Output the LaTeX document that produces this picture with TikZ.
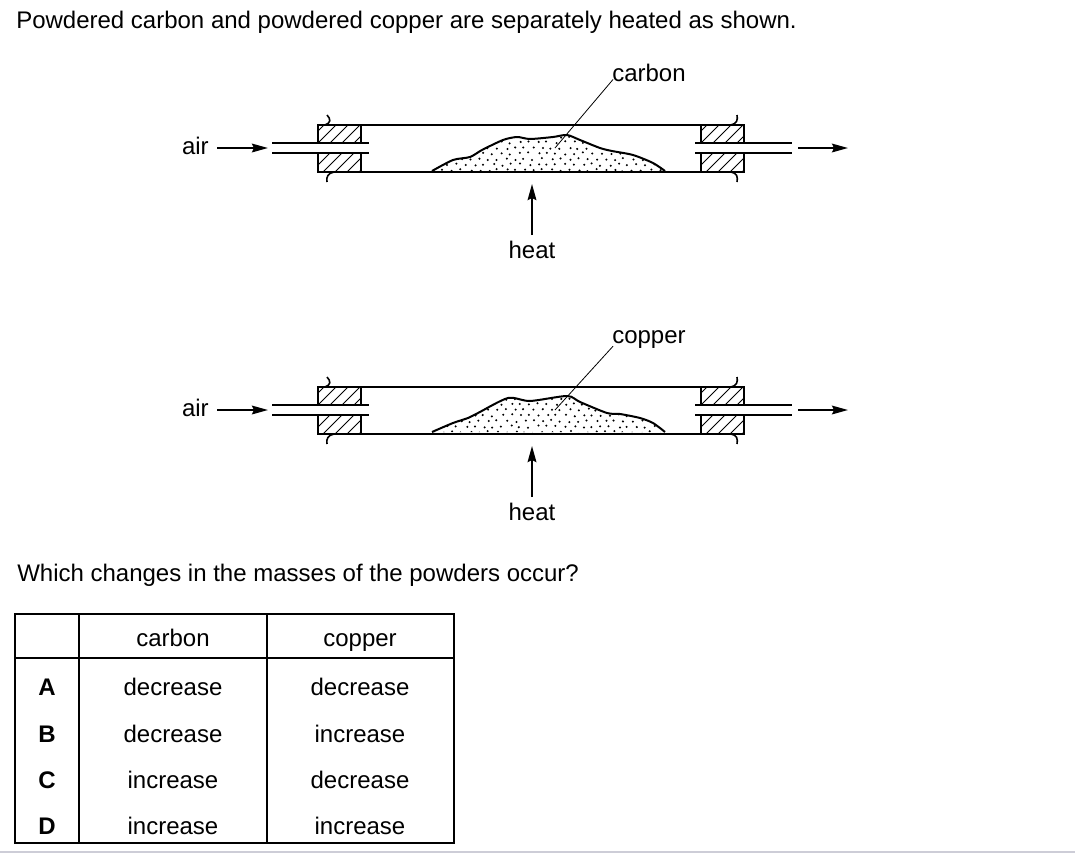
\documentclass[tikz,border=0pt]{standalone}
\usepackage{fontspec}
\setmainfont{Liberation Sans}
\usetikzlibrary{arrows.meta}
\begin{document}
\begin{tikzpicture}[x=0.75pt,y=-0.75pt,
  txt/.style={font=\fontsize{18pt}{21pt}\selectfont, inner sep=0pt},
  boldtxt/.style={txt, font=\fontsize{18pt}{21pt}\selectfont\bfseries},
  tube/.style={line width=1.5pt},
  tick/.style={line width=1.2pt},
  arr/.style={line width=1.5pt,-{Stealth[length=12pt,width=6.5pt,inset=1.5pt]}},
  lead/.style={line width=0.6pt},
  hatch/.style={line width=0.6pt},
  tab/.style={line width=1.5pt},
  powder/.style={line width=1.5pt, line join=round}]
\useasboundingbox (0,0) rectangle (1075,853);
\pgfmathsetseed{7}
\newcommand\apparatus[4]{%
\begin{scope}[shift={(0,#1)}]
  % hatched stoppers
  \foreach \xa in {318,701}{
    \begin{scope}
      \clip (\xa,125) rectangle ++(43,18);
      \foreach \k in {-2,...,5} \draw[hatch] ({\xa+\k*12},143) -- ++(18,-18);
    \end{scope}
    \begin{scope}
      \clip (\xa,153) rectangle ++(43,19);
      \foreach \k in {-2,...,5} \draw[hatch] ({\xa+\k*12+5},172) -- ++(19,-19);
    \end{scope}
    \draw[tube] (\xa,125) rectangle ++(43,18);
    \draw[tube] (\xa,153) rectangle ++(43,19);
  }
  % outer tube
  \draw[tube] (318,125) -- (744,125);
  \draw[tube] (318,172) -- (744,172);
  % inner tubes
  \draw[tube] (272,143) -- (369,143);
  \draw[tube] (272,153) -- (369,153);
  \draw[tube] (695,143) -- (792,143);
  \draw[tube] (695,153) -- (792,153);
  % end ticks
  \draw[tick] (327,115) .. controls (331,119) and (331,123) .. (325,125);
  \draw[tick] (334,172) .. controls (328,173) and (326,177) .. (327,182);
  \draw[tick] (737,115) .. controls (738,120) and (737,124) .. (730,125);
  \draw[tick] (731,172) .. controls (737,173) and (738,177) .. (737,182);
  % powder
  \begin{scope}
    \clip plot[smooth,tension=0.45] coordinates {#3} -- cycle;
    \foreach \j in {0,...,7}
      \foreach \i in {0,...,26}
        \fill ({430+\i*9+mod(\j,2)*4.5+rand*1.5},{131+\j*5.6+rand*1.2}) circle[radius=0.85pt];
  \end{scope}
  \draw[powder] plot[smooth,tension=0.45] coordinates {#3};
  % labels
  \node[txt, anchor=base west] (#2lbl) at (612,81) {#4};
  \coordinate (#2tip) at (555,148);
  \draw[lead] (#2lbl.south west) ++(1,-2) -- (#2tip);
  \node[txt, anchor=base east] (#2air) at (209,154) {air};
  \coordinate (#2in) at (268,148);
  \draw[arr] ([xshift=6pt]#2air.east |- #2in) -- (#2in);
  \coordinate (#2outs) at (798,148);
  \coordinate (#2oute) at (848,148);
  \draw[arr] (#2outs) -- (#2oute);
  \node[txt, anchor=base] (#2heat) at (532,258) {heat};
  \coordinate (#2htip) at (532,184);
  \draw[arr] ([yshift=4pt]#2heat.north) -- (#2htip);
\end{scope}}

\node[txt, anchor=base west] (title) at (16,28) {Powdered carbon and powdered copper are separately heated as shown.};

\apparatus{0}{c}{(432,171) (453,160) (470,157) (482,150) (503,140) (517,137) (530,139) (553,137) (567,135) (580,140) (600,148) (612,151) (633,155) (653,163) (665,171)}{carbon}
\apparatus{262}{u}{(432,170) (453,161) (468,156) (478,151) (508,136) (530,139) (567,134) (580,140) (607,151) (620,152) (640,156) (653,161) (665,170)}{copper}

\node[txt, anchor=base west] (question) at (17,581) {Which changes in the masses of the powders occur?};

% table
\draw[tab] (15,614) rectangle (454,843);
\draw[tab] (79,614) -- (79,843);
\draw[tab] (267,614) -- (267,843);
\draw[tab] (15,658) -- (454,658);
\node[txt, anchor=base] (hc) at (173,646) {carbon};
\node[txt, anchor=base] (hu) at (360,646) {copper};
\node[boldtxt, anchor=base] (rA) at (47,695) {A};
\node[boldtxt, anchor=base] (rB) at (47,742) {B};
\node[boldtxt, anchor=base] (rC) at (47,788) {C};
\node[boldtxt, anchor=base] (rD) at (47,834) {D};
\node[txt, anchor=base] (a1) at (173,695) {decrease};
\node[txt, anchor=base] (a2) at (360,695) {decrease};
\node[txt, anchor=base] (b1) at (173,742) {decrease};
\node[txt, anchor=base] (b2) at (360,742) {increase};
\node[txt, anchor=base] (c1) at (173,788) {increase};
\node[txt, anchor=base] (c2) at (360,788) {decrease};
\node[txt, anchor=base] (d1) at (173,834) {increase};
\node[txt, anchor=base] (d2) at (360,834) {increase};

\draw[line width=1.5pt, color={rgb,255:red,205;green,205;blue,215}] (0,851.5) -- (1075,851.5);
\end{tikzpicture}
\end{document}
